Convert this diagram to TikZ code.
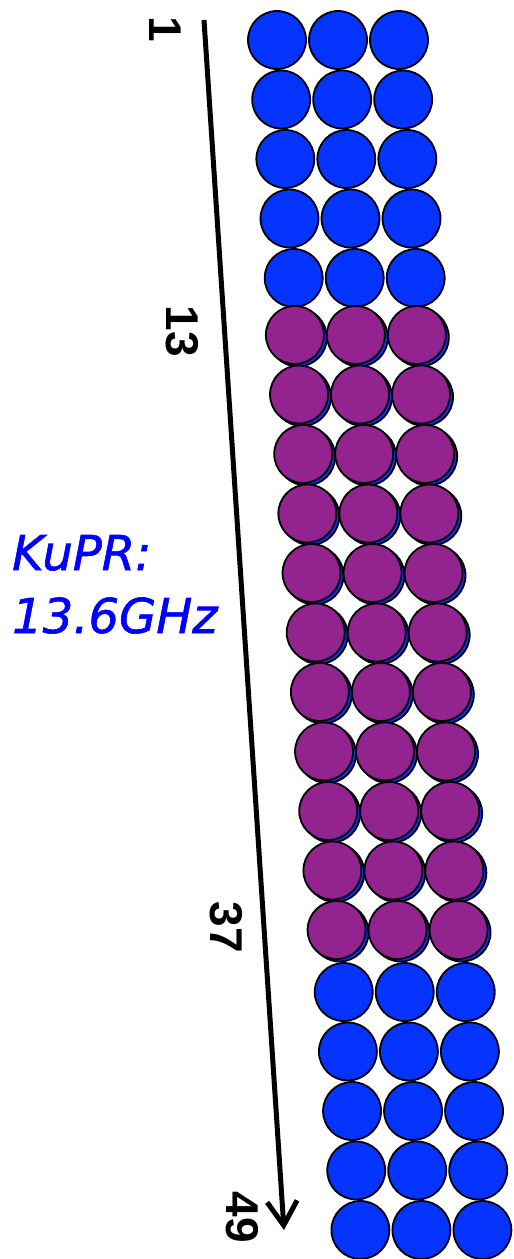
\documentclass[tikz,border=0pt]{standalone}
\usepackage{fontspec}
\newfontfamily\numfont{Liberation Sans}
\newfontfamily\kufont{DejaVu Sans}[ItalicFeatures={FakeBold=1.3}]
\usetikzlibrary{arrows.meta}
\definecolor{cblue}{RGB}{5,51,255}
\definecolor{cpurple}{RGB}{147,35,143}
\definecolor{ktext}{RGB}{0,0,255}
\begin{document}
\begin{tikzpicture}[x=1pt,y=-1pt,
  dot/.style={circle,draw=black,line width=1.8pt,minimum size=58pt,inner sep=0pt},
  bdot/.style={dot,fill=cblue},
  pdot/.style={dot,fill=cpurple},
  numlab/.style={font=\numfont\bfseries\fontsize{46}{46}\selectfont,inner sep=0pt,rotate=-90},
  kulab/.style={font=\kufont\itshape\fontsize{48}{58}\selectfont,text=ktext,inner sep=0pt,anchor=base west}]
\path[use as bounding box] (0,0) rectangle (514,1259);
\foreach \r in {1,...,21}{
  \foreach \c in {1,2,3}{
    \pgfmathsetmacro\px{277+(\r-1)*4.17+(\c-1)*61}
    \pgfmathsetmacro\py{40+(\r-1)*59.5}
    \ifnum\r<6
      \node[bdot] (c-\r-\c) at (\px,\py) {};
    \else\ifnum\r>16
      \node[bdot] (c-\r-\c) at (\px,\py) {};
    \else
      \node[bdot] (s-\r-\c) at (\px,\py) {};
      \node[pdot] (c-\r-\c) at (\px-3,\py-2.5) {};
    \fi\fi
  }
}
\coordinate (astart) at (204,20);
\coordinate (aend) at (284,1230);
\draw[line width=5pt,-{Straight Barb[length=24pt,width=30pt]}] (astart) -- (aend);
\node[numlab] (n1) at (165,29) {1};
\node[numlab] (n13) at (182,331) {13};
\node[numlab] (n37) at (226,927) {37};
\node[numlab] (n49) at (242,1217) {49};
\node[kulab] (k1) at (12,570) {KuPR:};
\node[kulab] (k2) at (12,633) {13.6GHz};
\end{tikzpicture}
\end{document}
